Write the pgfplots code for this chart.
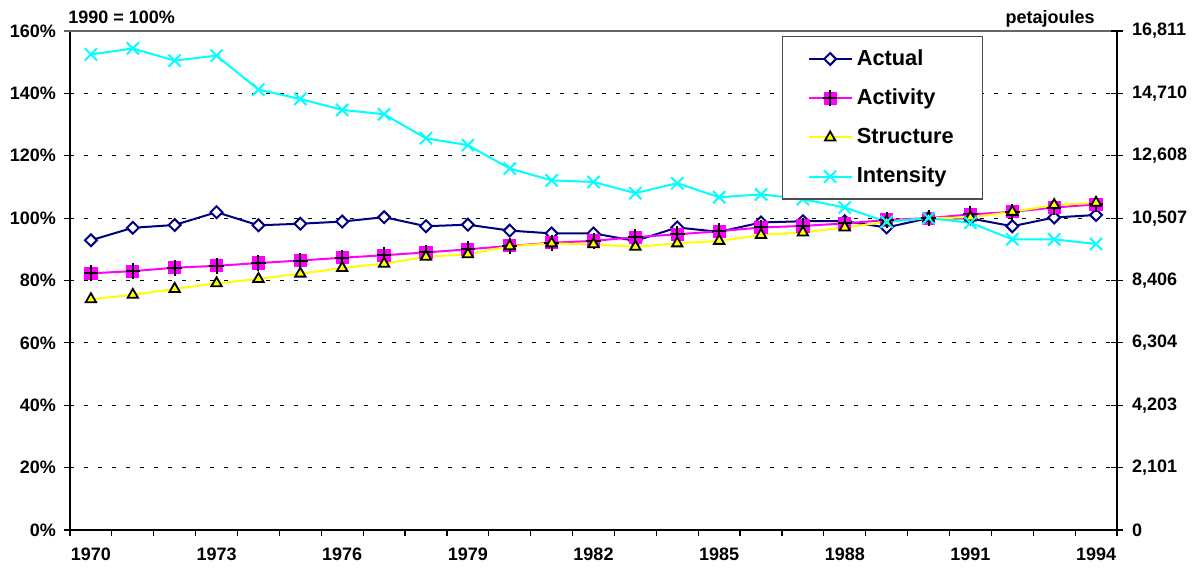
\documentclass[border=0pt]{standalone}
\usepackage{pgfplots}
\usepackage{pgfplotstable}
\pgfplotsset{compat=1.18}
\usepackage{fontspec}
\setmainfont{Liberation Sans}
\definecolor{cnavy}{RGB}{0,0,128}
\definecolor{cmag}{RGB}{255,0,255}
\definecolor{cyel}{RGB}{255,255,0}
\definecolor{ccyan}{RGB}{0,255,255}
\pgfdeclareplotmark{sqplus}{%
  \pgfpathrectangle{\pgfqpoint{-\pgfplotmarksize}{-\pgfplotmarksize}}{\pgfqpoint{2\pgfplotmarksize}{2\pgfplotmarksize}}%
  \pgfsetfillcolor{cmag}\pgfusepathqfill
  \pgfpathmoveto{\pgfqpoint{-1.1\pgfplotmarksize}{0pt}}\pgfpathlineto{\pgfqpoint{1.1\pgfplotmarksize}{0pt}}%
  \pgfpathmoveto{\pgfqpoint{0pt}{-1.2\pgfplotmarksize}}\pgfpathlineto{\pgfqpoint{0pt}{1.2\pgfplotmarksize}}%
  \pgfsetstrokecolor{black}\pgfsetlinewidth{1pt}\pgfusepathqstroke}
\pgfplotstableread{
year actual activity structure intensity
1970 92.9 82.3 74.0 152.5
1971 96.9 83.0 75.4 154.4
1972 97.8 84.1 77.3 150.5
1973 101.9 84.7 79.1 152.1
1974 97.7 85.6 80.5 141.2
1975 98.2 86.4 82.2 138.2
1976 98.9 87.3 84.0 134.7
1977 100.3 88.1 85.4 133.3
1978 97.4 89.0 87.6 125.6
1979 97.9 90.0 88.4 123.4
1980 96.0 91.1 91.0 115.9
1981 95.1 92.1 91.9 112.1
1982 95.1 92.7 91.6 111.6
1983 92.7 93.9 90.8 108.0
1984 97.0 94.8 91.9 111.2
1985 95.6 95.8 92.7 106.7
1986 98.6 97.0 94.6 107.6
1987 99.0 97.5 95.4 106.1
1988 99.0 98.3 97.0 103.4
1989 97.0 99.4 98.8 98.8
1990 100.0 100.0 100.0 100.0
1991 99.9 101.2 100.2 98.5
1992 97.4 102.0 102.0 93.2
1993 100.2 103.4 104.2 93.2
1994 101.0 104.4 104.9 91.7
}\datatable
\begin{document}
\begin{tikzpicture}
\pgfplotsset{
  common/.style={
    at={(0,0)}, anchor=south west, scale only axis,
    width=523.5pt, height=249.5pt,
    xmin=1969.5, xmax=1994.5, ymin=0, ymax=160,
    ytick={0,20,...,160},
    /pgf/number format/assume math mode=true,
    /pgf/number format/1000 sep={},
    tick label style={font=\fontsize{9}{10}\selectfont\bfseries},
    axis line style={black, line width=0.6pt},
    major tick style={black, line width=0.6pt},
  }
}
\begin{axis}[common, clip=false,
  axis x line*=bottom, axis y line*=left,
  xtick={1969.5,1970.5,...,1994.5},
  xticklabels={},
  extra x ticks={1970,1973,1976,1979,1982,1985,1988,1991,1994},
  extra x tick labels={1970,1973,1976,1979,1982,1985,1988,1991,1994},
  extra x tick style={major tick length=0pt, xticklabel style={yshift=-5.5pt}},
  xtick pos=bottom, ytick pos=left,
  tick align=outside, major tick length=3pt,
  yticklabel={\pgfmathprintnumber{\tick}\%},
  yticklabel style={xshift=-0.5pt},
  ymajorgrids,
  grid style={black, line width=0.5pt, dash pattern=on 2pt off 5pt},
  legend style={at={(0.680,0.990)}, anchor=north west,
    draw=black!70, line width=0.6pt, fill=white,
    font=\fontsize{10.9}{12}\selectfont\bfseries,
    inner xsep=12.5pt, inner ysep=4.5pt, row sep=6.3pt,
    cells={anchor=west}},
  legend image code/.code={%
    \draw[mark repeat=2,mark phase=2] plot coordinates {(0cm,0cm) (0.38cm,0cm) (0.76cm,0cm)};},
]
\draw[black!60, line width=0.6pt] ([xshift=-3pt]rel axis cs:0,1) -- ([xshift=3pt]rel axis cs:1,1);
\addplot[cnavy, line width=1pt, mark=square*, mark size=2.1pt,
  mark options={rotate=45, fill=white, draw=cnavy, line width=1pt}]
  table[x=year, y=actual] {\datatable};
\addlegendentry{Actual}
\addplot[cmag, line width=1pt, mark=sqplus, mark size=3.3pt]
  table[x=year, y=activity] {\datatable};
\addlegendentry{Activity}
\addplot[cyel, line width=1pt, mark=triangle*, mark size=3pt,
  mark options={fill=cyel, draw=black, line width=0.9pt}]
  table[x=year, y=structure] {\datatable};
\addlegendentry{Structure}
\addplot[ccyan, line width=1pt, mark=x, mark size=4.3pt,
  mark options={draw=ccyan, line width=1pt}]
  table[x=year, y=intensity] {\datatable};
\addlegendentry{Intensity}
\node[anchor=base west, font=\fontsize{9}{10}\selectfont\bfseries, inner sep=0pt]
  at (rel axis cs:0,1) [xshift=-1pt, yshift=3.5pt] {1990 = 100\%};
\node[anchor=base east, font=\fontsize{9}{10}\selectfont\bfseries, inner sep=0pt]
  at (rel axis cs:1,1) [xshift=-11pt, yshift=3.5pt] {petajoules};
\end{axis}
\begin{axis}[common,
  axis x line=none, axis y line*=right,
  tick align=center, major tick length=6pt,
  yticklabels={0,{2,101},{4,203},{6,304},{8,406},{10,507},{12,608},{14,710},{16,811}},
  yticklabel style={xshift=1pt},
]
\addplot[draw=none] coordinates {(1970,0)};
\end{axis}
\pgfresetboundingbox
\path[use as bounding box] (-35pt,-21.5pt) rectangle (563pt,265pt);
\end{tikzpicture}
\end{document}
